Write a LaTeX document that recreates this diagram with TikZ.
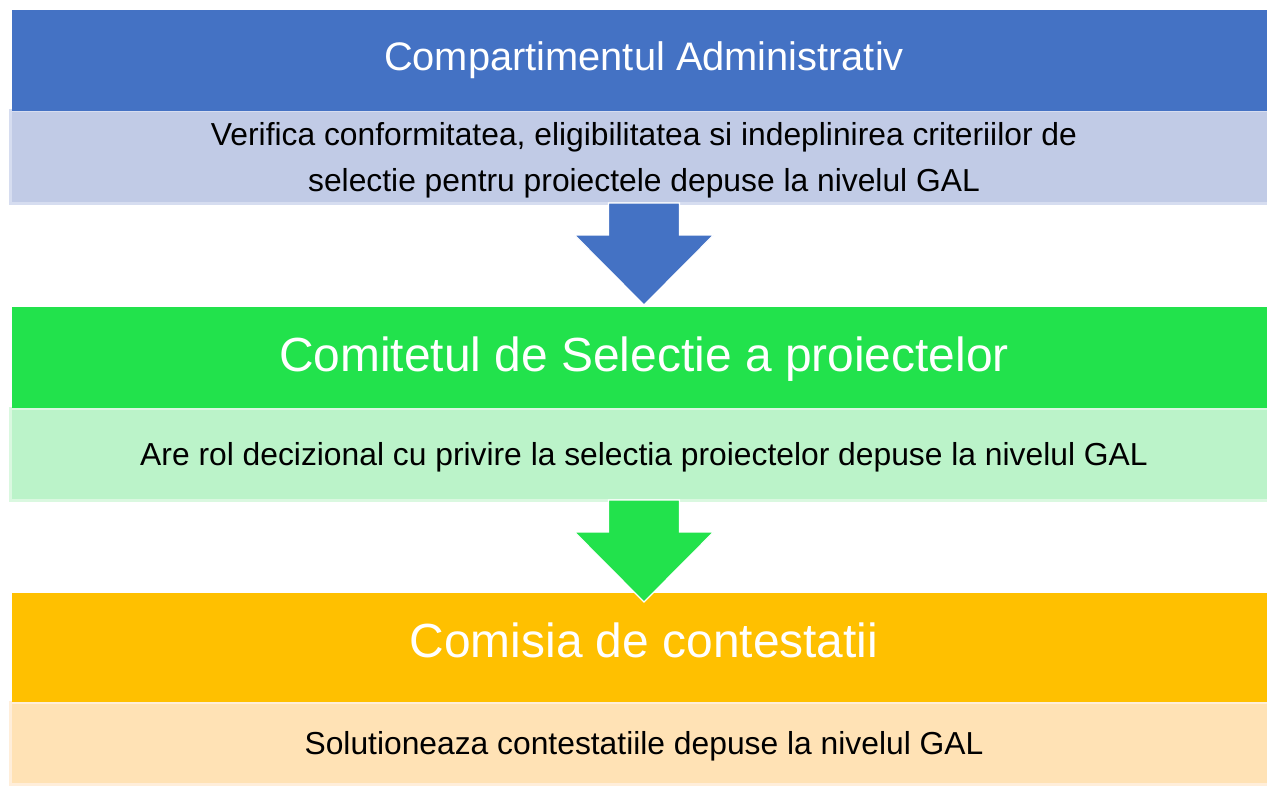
\documentclass[tikz,border=0pt]{standalone}
\usepackage{fontspec}
\setmainfont{Liberation Sans}
\usetikzlibrary{positioning}
\definecolor{admblue}{HTML}{4472C4}
\definecolor{admlight}{HTML}{C1CBE6}
\definecolor{admedge}{HTML}{D6DDF0}
\definecolor{selgreen}{HTML}{22E24C}
\definecolor{sellight}{HTML}{BBF3C9}
\definecolor{seledge}{HTML}{DAF8E0}
\definecolor{conorange}{HTML}{FFC000}
\definecolor{conlight}{HTML}{FFE2B5}
\definecolor{conedge}{HTML}{FFEEDA}
\tikzset{
    header/.style={rectangle, minimum width=1264pt, minimum height=101pt, inner sep=0pt, outer sep=0pt, text=white},
    desc/.style={rectangle, minimum width=1267pt, inner sep=0pt, outer sep=0pt, text depth=0pt, line width=3pt, align=center, font=\fontsize{31.8}{46}\selectfont},
    blockarrow/.style={draw=white, line width=1.2pt}
}
% block arrow pointing down, starting at #1
\newcommand{\flowarrow}[2]{\filldraw[blockarrow, fill=#2] (#1) ++(-35.5,0) -- ++(0,32) -- ++(-34,0) -- ++(69.5,70) -- ++(69.5,-70) -- ++(-34,0) -- ++(0,-32) -- cycle;}

\begin{document}
\begin{tikzpicture}[x=1pt, y=-1pt]
    \useasboundingbox[fill=white] (0,0) rectangle (1267,789);

    \node[desc, fill=admlight, draw=admedge, minimum height=92pt] (admtext) at (644,157) {Verifica conformitatea, eligibilitatea si indeplinirea criteriilor de\\selectie pentru proiectele depuse la nivelul GAL};
    \node[header, fill=admblue, above=0pt of admtext, font=\fontsize{39.8}{46}\selectfont] (adm) {Compartimentul Administrativ};

    \node[desc, fill=sellight, draw=seledge, minimum height=92pt, below=205pt of admtext] (seltext) {Are rol decizional cu privire la selectia proiectelor depuse la nivelul GAL};
    \node[header, fill=selgreen, above=0pt of seltext, text depth=7pt, font=\fontsize{47.9}{55}\selectfont] (sel) {Comitetul de Selectie a proiectelor};

    \node[desc, fill=conlight, draw=conedge, minimum height=82pt, below=202pt of seltext] (context) {Solutioneaza contestatiile depuse la nivelul GAL};
    \node[header, fill=conorange, above=0pt of context, minimum height=109pt, text depth=14pt, font=\fontsize{47.9}{55}\selectfont] (con) {Comisia de contestatii};

    \flowarrow{admtext.south}{admblue}
    \flowarrow{seltext.south}{selgreen}
\end{tikzpicture}
\end{document}
